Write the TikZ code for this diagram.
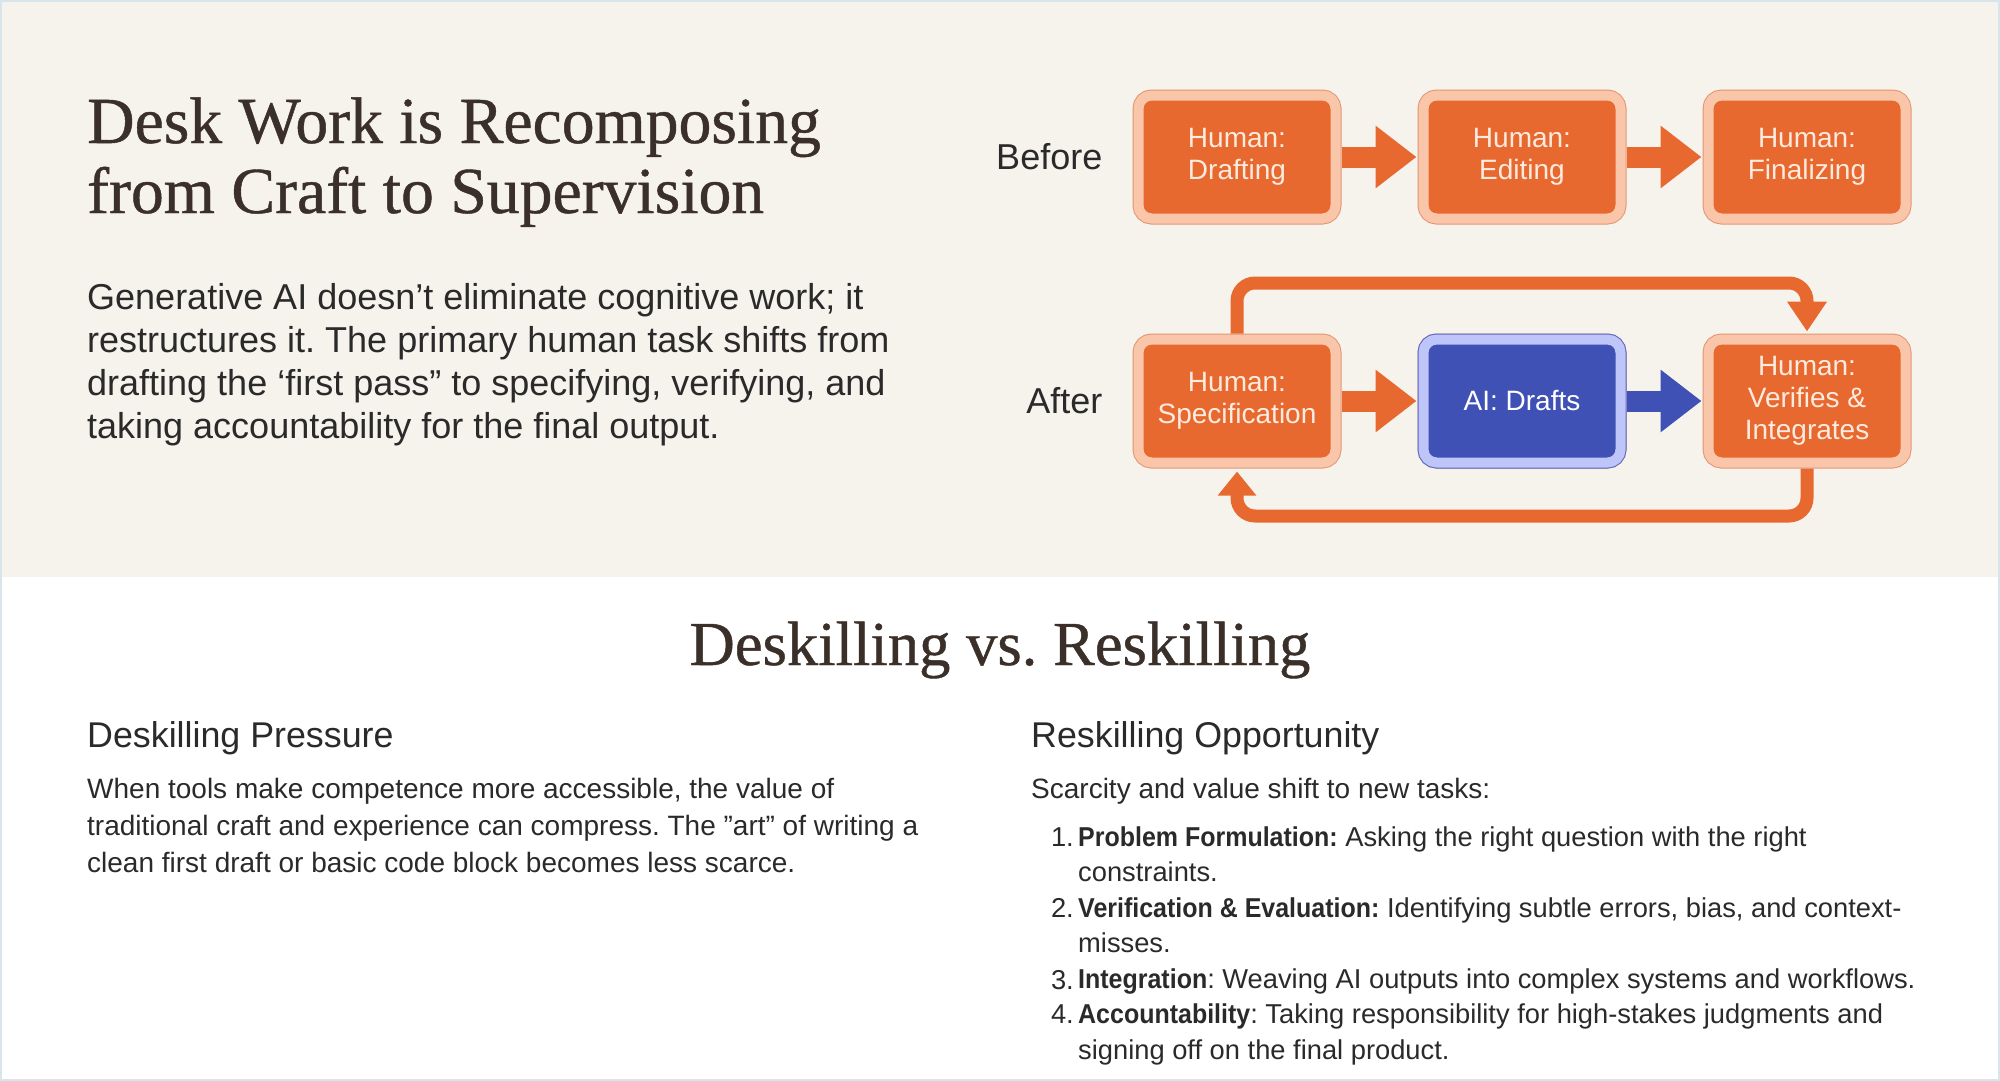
\documentclass[tikz,border=0pt]{standalone}
\usepackage{fontspec}
\usepackage{graphicx}
\setmainfont{Liberation Serif}
\setsansfont{Liberation Sans}
\newfontfamily\headserif{Liberation Serif}[FakeBold=0.7]
\usetikzlibrary{positioning,arrows.meta}

\definecolor{paper}{HTML}{F6F3EC}
\definecolor{frame}{HTML}{D8E5EA}
\definecolor{ink}{HTML}{2A2A2A}
\definecolor{headink}{HTML}{3A3029}
\definecolor{craft}{HTML}{E8692F}
\definecolor{craftring}{HTML}{F9C6AA}
\definecolor{craftline}{HTML}{E39472}
\definecolor{aiblue}{HTML}{3F51B5}
\definecolor{airing}{HTML}{BEC5F8}
\definecolor{ailine}{HTML}{5A68C6}
\definecolor{boxtext}{HTML}{FDEBDF}

\newcommand\taskterm[1]{\scalebox{0.915}[1]{\textbf{#1}}}

\tikzset{
	stepbox/.style={rectangle, rounded corners=13pt, fill=craft, draw=craftring,
		line width=10pt, preaction={draw=craftline, line width=12pt},
		minimum width=197pt, minimum height=123pt, inner sep=0pt, outer sep=0pt,
		align=center, text=boxtext, font=\sffamily\fontsize{28}{32}\selectfont},
	aibox/.style={stepbox, fill=aiblue, draw=airing,
		preaction={draw=ailine, line width=12pt}, text=white},
	rowlabel/.style={inner sep=0pt, text=ink, font=\sffamily\fontsize{36}{40}\selectfont},
	blockarrow/.style={line width=21pt, draw=craft,
		-{Triangle[length=41pt,width=60pt]}, shorten <=6pt, shorten >=7pt},
	loopline/.style={line width=13pt, draw=craft, rounded corners=18pt, shorten <=6pt},
	bodyline/.style={anchor=base west, inner sep=0pt, text=ink,
		font=\sffamily\fontsize{36}{43}\selectfont},
	smallline/.style={anchor=base west, inner sep=0pt, text=ink,
		font=\sffamily\fontsize{28}{35}\selectfont},
	taskline/.style={smallline, font=\sffamily\fontsize{27.3}{35}\selectfont},
	subhead/.style={anchor=base west, inner sep=0pt, text=ink,
		font=\sffamily\fontsize{35.8}{40}\selectfont},
	serifhead/.style={inner sep=0pt, text=headink},
}

\begin{document}
\frenchspacing
\begin{tikzpicture}[x=1pt,y=-1pt]
\useasboundingbox (0,0) rectangle (2000,1081);
\fill[white] (0,0) rectangle (2000,1081);
\fill[paper] (0,0) rectangle (2000,577);
\draw[frame, line width=2pt] (1,1) rectangle (1999,1080);

% title and intro
\node[serifhead, anchor=base west, font=\headserif\fontsize{65.7}{70}\selectfont] (title1) at (87,143) {Desk Work is Recomposing};
\node[serifhead, anchor=base west, font=\headserif\fontsize{65.7}{70}\selectfont] (title2) at (87,213) {from Craft to Supervision};
\foreach \txt [count=\i] in {
	{Generative AI doesn't eliminate cognitive work; it},
	{restructures it. The primary human task shifts from},
	{drafting the `first pass" to specifying, verifying, and},
	{taking accountability for the final output.}}
	\node[bodyline] (intro\i) at (87,{309+43.3*(\i-1)}) {\txt};

% before row
\node[stepbox] (b1) at (1237,157) {Human:\\Drafting};
\node[stepbox, right=88pt of b1] (b2) {Human:\\Editing};
\node[stepbox, right=88pt of b2] (b3) {Human:\\Finalizing};
\node[rowlabel, left=36pt of b1] (before) {Before};

% after row
\node[stepbox, below=121pt of b1] (s1) {Human:\\Specification};
\node[aibox, right=88pt of s1] (a1) {AI: Drafts};
\node[stepbox, right=88pt of a1] (v1) {Human:\\Verifies \&\\Integrates};
\node[rowlabel, left=36pt of s1] (after) {After};

\draw[blockarrow] (b1) -- (b2);
\draw[blockarrow] (b2) -- (b3);
\draw[blockarrow] (s1) -- (a1);
\draw[blockarrow, draw=aiblue] (a1) -- (v1);

% feedback loops
\coordinate (looptop) at (0,283);
\coordinate (loopbot) at (0,516);
\draw[loopline, -{Triangle[length=30pt,width=38pt]}, shorten >=8pt]
	(s1.north) -- (s1.north |- looptop) -- (v1.north |- looptop) -- (v1.north);
\draw[loopline, -{Triangle[length=24pt,width=37pt]}, shorten >=9pt]
	(v1.south) -- (v1.south |- loopbot) -- (s1.south |- loopbot) -- (s1.south);

% lower half
\node[serifhead, anchor=base, font=\headserif\fontsize{62.6}{66}\selectfont] (lowtitle) at (1000,665) {Deskilling vs. Reskilling};
\node[subhead] (deskill) at (87,747) {Deskilling Pressure};
\node[subhead] (reskill) at (1031,747) {Reskilling Opportunity};
\foreach \txt [count=\i] in {
	{When tools make competence more accessible, the value of},
	{traditional craft and experience can compress. The "art" of writing a},
	{clean first draft or basic code block becomes less scarce.}}
	\node[smallline] (press\i) at (87,{798+37*(\i-1)}) {\txt};
\node[smallline] (scarce) at (1031,798) {Scarcity and value shift to new tasks:};
\foreach \num/\row in {1./846, 2./917, 3./989, 4./1023}
	\node[taskline, anchor=base east] at (1074,\row) {\num};
\foreach \txt [count=\i] in {
	{\taskterm{Problem Formulation:} Asking the right question with the right},
	{constraints.},
	{\taskterm{Verification \& Evaluation:} Identifying subtle errors, bias, and context-},
	{misses.},
	{\taskterm{Integration}: Weaving AI outputs into complex systems and workflows.},
	{\taskterm{Accountability}: Taking responsibility for high-stakes judgments and},
	{signing off on the final product.}}
	\node[taskline] (task\i) at (1078,{846+35.5*(\i-1)}) {\txt};
\end{tikzpicture}
\end{document}
